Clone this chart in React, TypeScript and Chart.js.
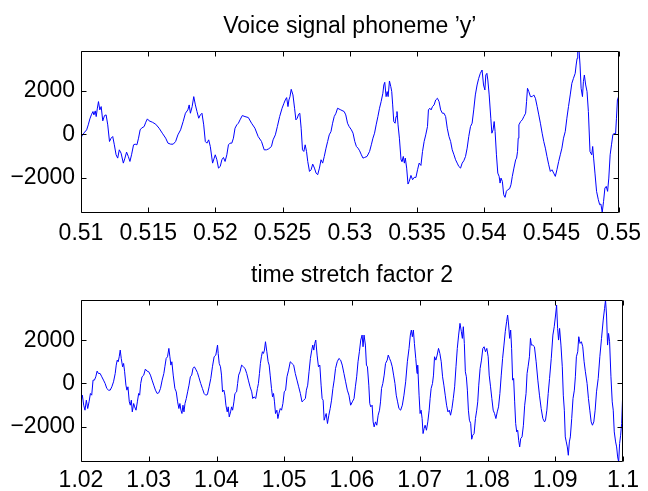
import React, { useEffect, useRef } from "react";
import { Chart, registerables } from "chart.js";

Chart.register(...registerables);

const FONT = "'Liberation Sans', Arial, Helvetica, sans-serif";
const FONT_SIZE = 23;

const topTitle = "Voice signal phoneme \u2019y\u2019";
const bottomTitle = "time stretch factor 2";

const topXTicks = [0.51, 0.515, 0.52, 0.525, 0.53, 0.535, 0.54, 0.545, 0.55];
const topXTickLabels = ["0.51", "0.515", "0.52", "0.525", "0.53", "0.535", "0.54", "0.545", "0.55"];
const bottomXTicks = [1.02, 1.03, 1.04, 1.05, 1.06, 1.07, 1.08, 1.09, 1.1];
const bottomXTickLabels = ["1.02", "1.03", "1.04", "1.05", "1.06", "1.07", "1.08", "1.09", "1.1"];
const yTicks = [-2000, 0, 2000];
const yTickLabels = ["\u22122000", "0", "2000"];

const topRange = [-3600, 3815];
const bottomRange = [-3645, 3875];

const topTime = [
  0.51, 0.51012, 0.51027, 0.51042, 0.51054, 0.51066, 0.51079, 0.51089, 0.51096, 0.51106,
  0.51113, 0.51121, 0.5113, 0.5114, 0.5115, 0.51162, 0.51175, 0.51187, 0.51199, 0.51212,
  0.51224, 0.51236, 0.51248, 0.51261, 0.51273, 0.51285, 0.51298, 0.51315, 0.51327, 0.51339,
  0.51352, 0.51364, 0.51376, 0.51391, 0.51403, 0.51416, 0.51428, 0.5144, 0.5145, 0.5147,
  0.51482, 0.51494, 0.51507, 0.51531, 0.51556, 0.51581, 0.51605, 0.5163, 0.51647, 0.51667,
  0.51686, 0.51704, 0.51721, 0.51741, 0.5176, 0.51777, 0.51795, 0.51805, 0.51814, 0.51827,
  0.51839, 0.51851, 0.51863, 0.51876, 0.51888, 0.519, 0.51913, 0.51925, 0.51937, 0.5195,
  0.51962, 0.51979, 0.51991,
  0.51999, 0.52011, 0.52023, 0.52036, 0.52048, 0.5206, 0.52072, 0.52085, 0.52097, 0.52109,
  0.52122, 0.52134, 0.52146, 0.52159, 0.52171, 0.52183, 0.522, 0.5222, 0.52245, 0.52269,
  0.52294, 0.52318, 0.52343, 0.52363, 0.5238, 0.52397, 0.52417, 0.52429, 0.52446, 0.52461,
  0.52478, 0.52496, 0.5251, 0.5252, 0.5253, 0.5254, 0.52547, 0.52555, 0.52564, 0.52577,
  0.52589, 0.52599, 0.52609, 0.52619, 0.52628, 0.52638, 0.52648, 0.52658, 0.52668, 0.52678,
  0.52687, 0.527, 0.52712, 0.52724, 0.52737, 0.52749, 0.52761, 0.52774, 0.52786, 0.52798,
  0.5281, 0.52823, 0.52835, 0.52847, 0.5286, 0.52872, 0.52884, 0.52897, 0.52909, 0.52933,
  0.52958, 0.5297, 0.52983, 0.52995,
  0.53012, 0.53024, 0.53037, 0.53049, 0.53061, 0.53073, 0.53086, 0.53098, 0.5311, 0.53128,
  0.53147, 0.5316, 0.53172, 0.53184, 0.53196, 0.53209, 0.53221, 0.53233, 0.53246, 0.53253,
  0.5326, 0.5327, 0.53278, 0.53285, 0.53295, 0.53305, 0.53312, 0.53319, 0.53327, 0.53337,
  0.53344, 0.53351, 0.53359, 0.53369, 0.53381, 0.53388, 0.53398, 0.53406, 0.53413, 0.53423,
  0.53433, 0.53442, 0.53455, 0.53467, 0.53479, 0.53492, 0.53504, 0.53516, 0.53529, 0.53541,
  0.53553, 0.53565, 0.53578, 0.53585, 0.53595, 0.53605, 0.53615, 0.53627, 0.53639, 0.53652,
  0.53664, 0.53676, 0.53689, 0.53701, 0.53713, 0.53725, 0.53738, 0.5375, 0.53762, 0.53775,
  0.53787, 0.53799, 0.53811, 0.53824, 0.53836, 0.53848, 0.53861, 0.53873, 0.53885, 0.53898,
  0.5391, 0.53922, 0.53934, 0.53947, 0.53959, 0.53971, 0.53984,
  0.53995, 0.54005, 0.54012, 0.5402, 0.54027, 0.54037, 0.54049, 0.54057, 0.54066, 0.54074,
  0.54081, 0.54091, 0.54101, 0.54111, 0.54118, 0.54125, 0.54135, 0.54145, 0.54155, 0.54165,
  0.54175, 0.54189, 0.54199, 0.54209, 0.54221, 0.54234, 0.54241, 0.54248, 0.54253, 0.54258,
  0.54271, 0.54283, 0.54295, 0.54308, 0.54315, 0.54322, 0.54332, 0.54344, 0.54357, 0.54369,
  0.54381, 0.54394, 0.54406, 0.54418, 0.54431, 0.54443, 0.54455, 0.54467, 0.5448, 0.54492,
  0.54504, 0.54517, 0.54529, 0.54541, 0.54554, 0.54566, 0.54578, 0.5459, 0.54603, 0.54615,
  0.54627, 0.5464, 0.54652, 0.54664, 0.54677, 0.54684, 0.54691, 0.54696, 0.54706, 0.54713,
  0.54721, 0.54731, 0.54738, 0.54745, 0.54755, 0.54765, 0.54775, 0.54787, 0.548, 0.54807,
  0.54814, 0.54824, 0.54836, 0.54849, 0.54859, 0.54868, 0.54878, 0.54888, 0.54898, 0.54908,
  0.54918, 0.54927, 0.54937, 0.54947, 0.54957, 0.54967, 0.54977, 0.54984, 0.54991, 0.55,
];

const topValue = [
  -150, -23, 99, 205, 434, 708, 921, 1043, 890, 1073,
  814, 1164, 1499, 1119, 1271, 616, 860, 890, 434, -327,
  -175, -99, -479, -936, -1088, -708, -860, -1317, -1088, -814,
  -1012, -1240, -936, -479, -449, -479, -175, 205, 282, 358,
  556, 708, 616, 556, 464, 282, 53, -175, -403, -449,
  -449, -327, -23, 205, 586, 966, 1119, 1347, 966, 1271,
  1727, 1347, 1043, 738, 890, 966, 434, -327, -403, -251,
  -555, -1317, -1088,
  -936, -1164, -1545, -1469, -1164, -1058, -1240, -936, -479, -403,
  -403, -175, 282, 434, 510, 662, 860, 814, 769, 510,
  282, -99, -327, -708, -708, -662, -555, -251, -23, 358,
  814, 1195, 1423, 1575, 1682, 1271, 1575, 1727, 2062, 1804,
  1195, 662, 738, 921, 966, 282, -708, -784, -479, -784,
  -1240, -1697, -1621, -1362, -1545, -1773, -1849, -1545, -1164, -1317,
  -1012, -632, -327, -23, 129, 510, 814, 966, 1195, 1119,
  1043, 890, 510, 358,
  205, 53, -327, -555, -632, -753, -936, -1088, -1058, -1012,
  -784, -479, -175, 53, 434, 814, 1195, 1499, 1880, 2260,
  2382, 1727, 1956, 1727, 2443, 2184, 1956, 1347, 586, 510,
  814, 1043, 434, -175, -1164, -1240, -1012, -1317, -1088, -1545,
  -2275, -2153, -1880, -2077, -1971, -1971, -1621, -1317, -1423, -784,
  -327, -23, 358, 1119, 1195, 1119, 1271, 1347, 1575, 1651,
  1499, 1119, 966, 966, 814, 282, -99, -327, -708, -936,
  -1164, -1317, -1469, -1545, -1317, -1210, -1012, -632, -99, 358,
  510, 1119, 1804, 2260, 2564, 2793, 2945,
  2260, 2032, 2717, 2793, 2488, 1804, 738, 53, 205, 586,
  129, -936, -1773, -1925, -2230, -2001, -2153, -2762, -2884, -2610,
  -2534, -2488, -2306, -1925, -1545, -1164, -1088, -784, -175, 434,
  586, 662, 814, 966, 1499, 2108, 1956, 1727, 1727, 1804,
  1651, 1271, 890, 510, 53, -327, -632, -1012, -1393, -1697,
  -1621, -1773, -1925, -1621, -1240, -936, -632, -175, 129, 738,
  1271, 1804, 2336, 2564, 2793, 3173, 3478, 3782, 3813, 3173,
  2108, 1727, 2412, 2717, 2260, 1956, 1043, -784, -936, -555,
  -1088, -1773, -2610, -2991, -3219, -3189, -3569, -3067, -2458, -2382,
  -2610, -2001, -936, -479, -23, 53, -23, 738, 1575, 1730,
];

const bottomTime = [
  1.02, 1.0202, 1.0204, 1.02059, 1.02079, 1.02099, 1.02119, 1.02139, 1.02158, 1.02178,
  1.02198, 1.02218, 1.02238, 1.02257, 1.02282, 1.02307, 1.02332, 1.02356, 1.02381, 1.02406,
  1.02431, 1.02455, 1.0248, 1.02505, 1.0252, 1.02535, 1.02549, 1.02564, 1.02579, 1.02594,
  1.02614, 1.02629, 1.02644, 1.02663, 1.02678, 1.02693, 1.02713, 1.02728, 1.02743, 1.02757,
  1.02777, 1.02792, 1.02812, 1.02832, 1.02851, 1.02866, 1.02881, 1.02901, 1.02926, 1.0295,
  1.02975, 1.03, 1.03025, 1.03049, 1.03074, 1.03099, 1.03124, 1.03148, 1.03173, 1.03198,
  1.03223, 1.03238, 1.03257, 1.03277, 1.03297, 1.03312, 1.03327, 1.03341, 1.03361, 1.03386,
  1.03406, 1.03426, 1.03445, 1.0346, 1.03475, 1.0349, 1.03505, 1.0352, 1.03535, 1.03554,
  1.03574, 1.03594, 1.03614, 1.03634, 1.03653, 1.03673, 1.03693, 1.03718, 1.03742, 1.03767,
  1.03792, 1.03817, 1.03841, 1.03866, 1.03891, 1.03916, 1.0394, 1.03965, 1.0399, 1.04015,
  1.04025, 1.0404, 1.04059, 1.04074, 1.04089, 1.04109, 1.04124, 1.04139, 1.04158, 1.04173,
  1.04188, 1.04208, 1.04223, 1.04238, 1.04257, 1.04272, 1.04297, 1.04312, 1.04327, 1.04347,
  1.04371, 1.04396, 1.04421, 1.04446, 1.0447, 1.04495, 1.0452, 1.04535, 1.04554, 1.04579,
  1.04604, 1.04619, 1.04634, 1.04648, 1.04663, 1.04678, 1.04693, 1.04708, 1.04723, 1.04743,
  1.04762, 1.04777, 1.04792, 1.04812, 1.04827, 1.04842, 1.04856, 1.04871, 1.04891, 1.04906,
  1.04921, 1.04941, 1.0496, 1.0498, 1.05, 1.0502, 1.0504, 1.05064, 1.05089, 1.05114,
  1.05139, 1.05163, 1.05188, 1.05213, 1.05238, 1.05262, 1.05287, 1.05312, 1.05327, 1.05346,
  1.05366, 1.05386, 1.05406, 1.05421, 1.05436, 1.0545, 1.05465, 1.05485, 1.05505, 1.05525,
  1.05544, 1.05559, 1.05574, 1.05589, 1.05604, 1.05619, 1.05638, 1.05658, 1.05678, 1.05698,
  1.05718, 1.05737, 1.05757, 1.05782, 1.05807, 1.05832, 1.05856, 1.05881, 1.05906, 1.05931,
  1.05955, 1.0598, 1.06005,
  1.0603, 1.0605, 1.06069, 1.06089, 1.06109, 1.06129, 1.06149, 1.06163, 1.06178, 1.06198,
  1.06213, 1.06228, 1.06248, 1.06262, 1.06277, 1.06297, 1.06312, 1.06327, 1.06347, 1.06366,
  1.06386, 1.06406, 1.06421, 1.06436, 1.06455, 1.06475, 1.06495, 1.0652, 1.06535, 1.06554,
  1.06574, 1.06594, 1.06614, 1.06634, 1.06653, 1.06673, 1.06693, 1.06718, 1.06743, 1.06767,
  1.06792, 1.06817, 1.06842, 1.06861, 1.06876, 1.06891, 1.06906, 1.06921, 1.06941, 1.0696,
  1.0697, 1.0699, 1.07005, 1.0702, 1.07035, 1.07049, 1.07064, 1.07079, 1.07099, 1.07119,
  1.07139, 1.07153, 1.07168, 1.07188, 1.07203, 1.07218, 1.07238, 1.07257, 1.07277, 1.07297,
  1.07317, 1.07337, 1.07356, 1.07376, 1.07396, 1.07416, 1.07436, 1.07455, 1.07475, 1.07495,
  1.07515, 1.07535, 1.07554, 1.07574, 1.07594, 1.07614, 1.07629, 1.07643, 1.07658, 1.07673,
  1.07688, 1.07703, 1.07718, 1.07733, 1.07752, 1.07767, 1.07782, 1.07802, 1.07822, 1.07841,
  1.07856, 1.07871, 1.07891, 1.07911, 1.07931, 1.0795, 1.0797, 1.0799, 1.0801,
  1.08025, 1.08045, 1.08064, 1.08084, 1.08104, 1.08124, 1.08144, 1.08163, 1.08183, 1.08203,
  1.08223, 1.08243, 1.08262, 1.08282, 1.08297, 1.08312, 1.08327, 1.08342, 1.08356, 1.08371,
  1.08386, 1.08401, 1.08416, 1.08431, 1.08446, 1.0846, 1.08475, 1.0849, 1.0851, 1.0853,
  1.08549, 1.08569, 1.08584, 1.08599, 1.08619, 1.08634, 1.08648, 1.08668, 1.08693, 1.08718,
  1.08743, 1.08767, 1.08792, 1.08817, 1.08842, 1.08856, 1.08876, 1.08896, 1.08916, 1.08941,
  1.08965, 1.08985, 1.09005, 1.0902, 1.09035, 1.09049, 1.09064, 1.09084, 1.09104, 1.09119,
  1.09134, 1.09148, 1.09163, 1.09178, 1.09193, 1.09208, 1.09223, 1.09243, 1.09262, 1.09282,
  1.09297, 1.09312, 1.09332, 1.09347, 1.09366, 1.09386, 1.09406, 1.09426, 1.09445, 1.0947,
  1.0949, 1.0951, 1.0953, 1.09549, 1.09569, 1.09589, 1.09609, 1.09634, 1.09658, 1.09683,
  1.09708, 1.09728, 1.09742, 1.09757, 1.09772, 1.09787, 1.09802, 1.09822, 1.09841, 1.09856,
  1.09871, 1.09891, 1.09906, 1.09921, 1.09936, 1.0995, 1.09965, 1.0998, 1.09995, 1.1,
];

const bottomValue = [
  -853, -543, -1008, -1240, -775, -1163, -853, -465, -543, 155,
  155, 310, 574, 465, 465, 310, 155, 0, -233, -310,
  -310, -155, 78, 465, 853, 1085, 1008, 1240, 1550, 1163,
  775, 930, 543, -78, -310, -155, -853, -1008, -775, -1318,
  -930, -1085, -1240, -853, -465, -543, 0, 310, 388, 667,
  574, 543, 388, 155, -78, -310, -465, -434, -233, 155,
  465, 775, 1163, 1240, 1628, 1240, 853, 1008, 388, -233,
  -388, -853, -1163, -930, -1240, -1395, -1008, -1318, -930, -698,
  -388, -78, 310, 388, 698, 775, 667, 512, 264, 0,
  -233, -465, -543, -512, -155, 233, 775, 1240, 1318, 1783,
  1395, 930, 775, 388, -388, -310, -543, -1008, -1318, -1085,
  -1550, -1318, -1085, -1240, -853, -465, -388, 0, 388, 543,
  853, 775, 698, 465, 155, -155, -388, -698, -620, -698,
  -233, 0, 465, 930, 1240, 1473, 1395, 1550, 1938, 1473,
  1008, 853, 388, -233, -620, -465, -853, -1395, -1240, -1628,
  -1395, -1163, -1240, -930, -388, -310, 310, 620, 1008, 930,
  853, 465, 155, -155, -465, -853, -775, -698, -310, -78,
  543, 1163, 1550, 1783, 1550, 1860, 2015, 1318, 775, 853,
  -78, -698, -775, -1705, -1550, -1395, -1860, -1473, -1163, -775,
  -233, 155, 698, 1008, 1163, 1085, 853, 465, 78, -310,
  -543, -1008, -853,
  -698, -155, 310, 1008, 1473, 2015, 2248, 1705, 2248, 1783,
  853, 775, -78, -930, -1085, -1008, -1783, -2015, -1783, -1938,
  -1473, -1240, -853, -233, 0, 388, 930, 1085, 1318, 1163,
  1008, 775, 388, 0, -543, -853, -1163, -1240, -1008, -543,
  78, 1008, 1628, 2248, 2480, 2170, 2480, 1860, 1163, 465,
  853, -543, -1395, -1240, -1628, -2325, -2093, -1938, -2170, -1783,
  -1240, -698, -233, 0, 388, 1240, 1085, 1318, 1628, 1395,
  1008, 310, -78, -543, -1008, -1318, -1240, -1473, -1163, -698,
  -155, 775, 1628, 2248, 2790, 2403, 2093, 2635, 1860, 543,
  310, -310, -1240, -1705, -1860, -2589, -2403, -2325, -1628, -1240,
  -853, -78, 698, 1085, 1628, 1705, 1473, 1628, 1240,
  388, -155, -698, -1240, -1395, -1628, -1318, -1085, -465, 388,
  1163, 1783, 2403, 2868, 3178, 2713, 2093, 2480, 1628, 155,
  233, -853, -1860, -2248, -2170, -2635, -2945, -2558, -2480, -1938,
  -1008, -465, 465, 775, 1240, 2093, 1783, 1783, 1705, 1008,
  155, -543, -1163, -1628, -1783, -1705, -1240, -465, 233, 1163,
  2248, 2635, 3178, 3643, 2558, 2015, 2558, 1783, 775, -543,
  -1240, -2480, -2713, -2945, -3333, -2713, -2480, -1628, -698, -310,
  310, 1240, 1473, 2170, 1860, 1938, 1705, 1008, 543, 0,
  -698, -1240, -1783, -1938, -1783, -1240, -388, 233, 1240, 2093,
  2945, 3488, 3875, 3178, 1783, 2325, 1938, 310, -853, -1240,
  -2248, -2713, -2945, -3410, -3643, -2790, -2403, -1860, -543, 80,
];

const framePlugin = {
  id: "matlabFrame",
  afterDraw(chart: any, _args: any, opts: any) {
    const { ctx, chartArea } = chart;
    const { left, right, top, bottom } = chartArea;
    const xs = chart.scales.x;
    const ys = chart.scales.y;
    const L = Math.round(left) + 0.5;
    const R = Math.round(right) - 0.5;
    const T = Math.round(top) + 0.5;
    const B = Math.round(bottom) - 0.5;
    const tl = 5;
    ctx.save();
    ctx.strokeStyle = "#000";
    ctx.lineWidth = 1;
    ctx.beginPath();
    ctx.rect(L, T, R - L, B - T);
    xs.ticks.forEach((t: any) => {
      const px = Math.round(xs.getPixelForValue(t.value)) + 0.5;
      ctx.moveTo(px, B);
      ctx.lineTo(px, B - tl);
      ctx.moveTo(px, T);
      ctx.lineTo(px, T + tl);
    });
    ys.ticks.forEach((t: any) => {
      const py = Math.round(ys.getPixelForValue(t.value)) + 0.5;
      ctx.moveTo(L, py);
      ctx.lineTo(L + tl, py);
      ctx.moveTo(R, py);
      ctx.lineTo(R - tl, py);
    });
    ctx.stroke();
    ctx.fillStyle = "#000";
    ctx.font = `${FONT_SIZE}px ${FONT}`;
    ctx.textAlign = "center";
    ctx.textBaseline = "alphabetic";
    ctx.fillText(opts.text, (left + right) / 2, top - 18);
    ctx.restore();
  },
};

function buildConfig(
  times: number[],
  values: number[],
  xTicks: number[],
  xLabels: string[],
  yRange: number[],
  title: string,
  topPad: number,
  axisHeight: number,
  labelPad: number
): any {
  return {
    type: "line",
    data: {
      datasets: [
        {
          data: times.map((t, i) => ({ x: t, y: values[i] })),
          borderColor: "#0000ff",
          borderWidth: 1,
          pointRadius: 0,
          tension: 0,
          fill: false,
        },
      ],
    },
    options: {
      animation: false,
      responsive: false,
      devicePixelRatio: 1,
      events: [],
      layout: { padding: { top: topPad, right: 25, left: 0, bottom: 0 } },
      plugins: {
        legend: { display: false },
        tooltip: { enabled: false },
        title: { display: false },
        matlabFrame: { text: title },
      },
      scales: {
        x: {
          type: "linear",
          min: xTicks[0],
          max: xTicks[xTicks.length - 1],
          afterBuildTicks: (s: any) => {
            s.ticks = xTicks.map((v) => ({ value: v }));
          },
          afterFit: (s: any) => {
            s.height = axisHeight;
          },
          grid: { display: false, drawTicks: false },
          border: { display: false },
          ticks: {
            autoSkip: false,
            maxRotation: 0,
            minRotation: 0,
            padding: labelPad,
            color: "#000",
            font: { family: FONT, size: FONT_SIZE },
            callback: (v: any) => {
              const i = xTicks.indexOf(v);
              return i >= 0 ? xLabels[i] : "";
            },
          },
        },
        y: {
          type: "linear",
          min: yRange[0],
          max: yRange[1],
          afterBuildTicks: (s: any) => {
            s.ticks = yTicks.map((v) => ({ value: v }));
          },
          afterFit: (s: any) => {
            s.width = 81;
          },
          grid: { display: false, drawTicks: false },
          border: { display: false },
          ticks: {
            padding: 6,
            color: "#000",
            font: { family: FONT, size: FONT_SIZE },
            callback: (v: any) => {
              const i = yTicks.indexOf(v);
              return i >= 0 ? yTickLabels[i] : "";
            },
          },
        },
      },
    },
    plugins: [framePlugin],
  };
}

export default function App() {
  const topRef = useRef<HTMLCanvasElement | null>(null);
  const bottomRef = useRef<HTMLCanvasElement | null>(null);

  useEffect(() => {
    const c1 = new Chart(
      topRef.current as HTMLCanvasElement,
      buildConfig(topTime, topValue, topXTicks, topXTickLabels, topRange, topTitle, 51, 37, 7)
    );
    const c2 = new Chart(
      bottomRef.current as HTMLCanvasElement,
      buildConfig(bottomTime, bottomValue, bottomXTicks, bottomXTickLabels, bottomRange, bottomTitle, 50, 29, 5)
    );
    return () => {
      c1.destroy();
      c2.destroy();
    };
  }, []);

  return (
    <div
      style={{
        position: "fixed",
        left: 0,
        top: 0,
        width: 648,
        height: 491,
        background: "#fff",
        overflow: "hidden",
      }}
    >
      <canvas ref={topRef} width={648} height={250} style={{ display: "block", width: 648, height: 250 }} />
      <canvas ref={bottomRef} width={648} height={241} style={{ display: "block", width: 648, height: 241 }} />
    </div>
  );
}
